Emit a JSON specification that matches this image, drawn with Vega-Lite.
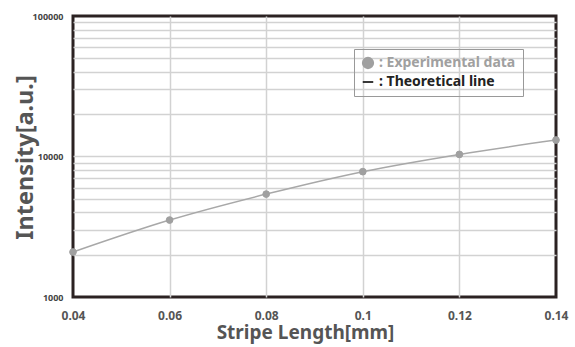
{
  "$schema": "https://vega.github.io/schema/vega-lite/v6.json",
  "autosize": "none",
  "width": 483,
  "height": 281,
  "padding": {"left": 73, "top": 16, "right": 19, "bottom": 50},
  "background": "white",
  "config": {
    "font": "Noto Sans",
    "view": {"stroke": "#2b2222", "strokeWidth": 3}
  },
  "data": {
    "values": [
      {"length": 0.04, "intensity": 2090, "series": " : Experimental data"},
      {"length": 0.06, "intensity": 3530, "series": " : Experimental data"},
      {"length": 0.08, "intensity": 5400, "series": " : Experimental data"},
      {"length": 0.10, "intensity": 7800, "series": " : Experimental data"},
      {"length": 0.12, "intensity": 10350, "series": " : Experimental data"},
      {"length": 0.14, "intensity": 13100, "series": " : Experimental data"}
    ]
  },
  "encoding": {
    "x": {
      "field": "length",
      "type": "quantitative",
      "scale": {"domain": [0.04, 0.14], "nice": false, "zero": false},
      "axis": {
        "title": "Stripe Length[mm]",
        "values": [0.04, 0.06, 0.08, 0.1, 0.12, 0.14],
        "labelExpr": "format(datum.value, '~g')",
        "labelFlush": false,
        "labelOverlap": false,
        "grid": true,
        "gridColor": {"condition": {"test": "datum.value <= 0.0401 || datum.value >= 0.1399", "value": "transparent"}, "value": "#d2d2d2"},
        "gridWidth": 1.5,
        "domain": false,
        "ticks": false,
        "labelPadding": 13,
        "labelFontSize": 12,
        "labelFontWeight": "bold",
        "labelColor": "#555555",
        "titleFontSize": 19,
        "titleFontWeight": "bold",
        "titleColor": "#555555",
        "titleX": 232,
        "titleAlign": "center",
        "titlePadding": 2
      }
    },
    "y": {
      "field": "intensity",
      "type": "quantitative",
      "scale": {"type": "log", "domain": [1000, 100000], "nice": false},
      "axis": {
        "title": "Intensity[a.u.]",
        "values": [1000, 2000, 3000, 4000, 5000, 6000, 7000, 8000, 9000, 10000, 20000, 30000, 40000, 50000, 60000, 70000, 80000, 90000, 100000],
        "format": "d",
        "labelExpr": "(datum.value == 1000 || datum.value == 10000 || datum.value == 100000) ? datum.label : ''",
        "labelOverlap": false,
        "grid": true,
        "gridColor": {"condition": {"test": "datum.value <= 1001 || datum.value >= 99999", "value": "transparent"}, "value": "#d2d2d2"},
        "gridWidth": 1.5,
        "domain": false,
        "ticks": false,
        "labelPadding": 10,
        "labelFontSize": 9,
        "labelFontWeight": "bold",
        "labelColor": "#444444",
        "titleFontSize": 23.5,
        "titleFontWeight": "bold",
        "titleColor": "#555555",
        "titleX": -41,
        "titleY": 141,
        "titleAlign": "center",
        "titleBaseline": "alphabetic",
        "titleAngle": -90
      }
    }
  },
  "layer": [
    {
      "mark": {"type": "line", "interpolate": "monotone", "color": "#a8a8a8", "strokeWidth": 1.5},
      "encoding": {}
    },
    {
      "mark": {"type": "point", "filled": true, "color": "#a0a0a0", "opacity": 1, "size": 45, "strokeWidth": 1},
      "encoding": {
        "shape": {
          "field": "series",
          "type": "nominal",
          "scale": {"domain": [" : Experimental data", " : Theoretical line"], "range": ["circle", "stroke"]},
          "legend": {
            "title": null,
            "orient": "top-right",
            "offset": 33,
            "strokeColor": "#999999",
            "padding": 7,
            "rowPadding": 3,
            "labelFontSize": 14,
            "labelFontWeight": "bold",
            "labelOffset": 4,
            "symbolSize": 110,
            "symbolStrokeWidth": 1.8,
            "symbolOpacity": 1,
            "labelColor": {"expr": "datum.value == ' : Theoretical line' ? '#222222' : '#a0a0a0'"}
          }
        },
        "stroke": {
          "field": "series",
          "type": "nominal",
          "scale": {"domain": [" : Experimental data", " : Theoretical line"], "range": ["#a0a0a0", "#222222"]},
          "legend": {
            "title": null,
            "orient": "top-right",
            "offset": 33,
            "strokeColor": "#999999",
            "padding": 7,
            "rowPadding": 3,
            "labelFontSize": 14,
            "labelFontWeight": "bold",
            "labelOffset": 4,
            "symbolSize": 110,
            "symbolStrokeWidth": 1.8,
            "symbolOpacity": 1,
            "labelColor": {"expr": "datum.value == ' : Theoretical line' ? '#222222' : '#a0a0a0'"}
          }
        }
      }
    }
  ]
}
